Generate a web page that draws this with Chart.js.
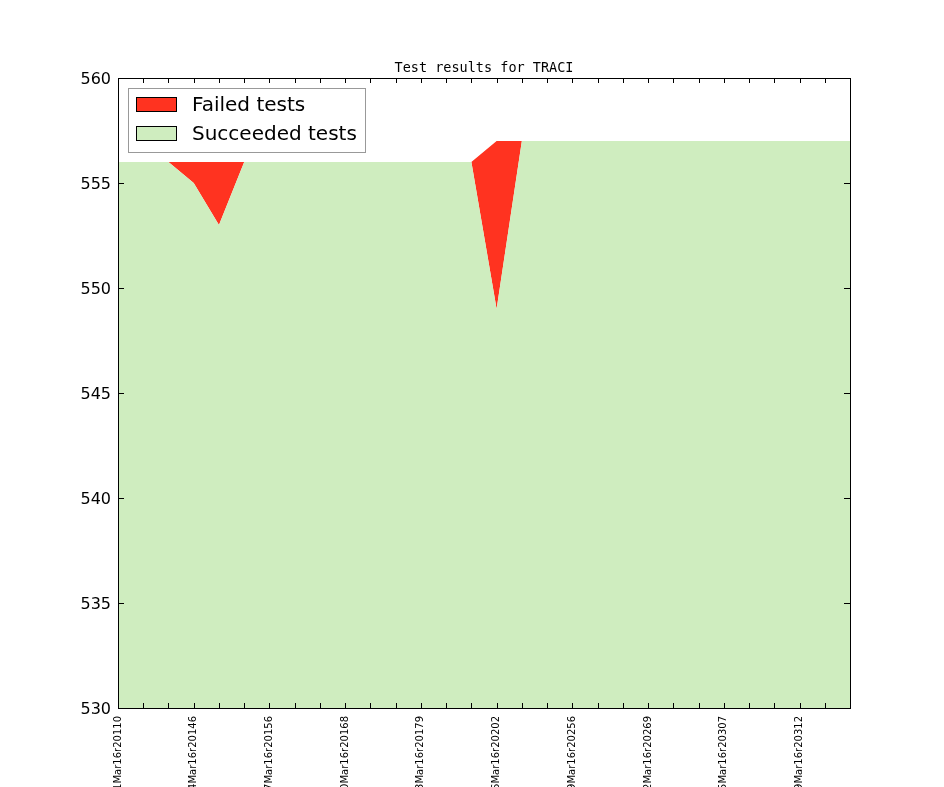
<!DOCTYPE html>
<html>
<head>
<meta charset="utf-8">
<script src="https://cdn.jsdelivr.net/npm/chart.js@4.4.1/dist/chart.umd.min.js"></script>
<style>
  html, body { margin: 0; padding: 0; background: #fff; overflow: hidden; }
</style>
</head>
<body>
<canvas id="chart" width="944" height="787"></canvas>
<script>
// one entry per test run, only every third run is labelled on the axis
const runLabels = [
    '01Mar16r20110', '', '', '04Mar16r20146', '', '', '07Mar16r20156', '', '',
    '10Mar16r20168', '', '', '13Mar16r20179', '', '', '16Mar16r20202', '', '',
    '19Mar16r20256', '', '', '22Mar16r20269', '', '', '25Mar16r20307', '', '',
    '29Mar16r20312', '', ''
];
const succeededTests = [
    556, 556, 556, 555, 553, 556, 556, 556, 556, 556,
    556, 556, 556, 556, 556, 549, 557, 557, 557, 557,
    557, 557, 557, 557, 557, 557, 557, 557, 557, 557
];
const failedTests = [
    0, 0, 0, 1, 3, 0, 0, 0, 0, 0,
    0, 0, 0, 0, 0, 8, 0, 0, 0, 0,
    0, 0, 0, 0, 0, 0, 0, 0, 0, 0
];
const yTicks = [530, 535, 540, 545, 550, 555, 560];
const chartTitle = 'Test results for TRACI';

const RED = '#ff3320';
const GREEN = '#cfedbf';

// frame, inward ticks on all four sides, title and the boxed legend
const mplLook = {
    id: 'mplLook',
    afterDraw(chart) {
        const ctx = chart.ctx;
        const a = chart.chartArea;
        const xs = chart.scales.x;
        const ys = chart.scales.y;
        ctx.save();
        ctx.strokeStyle = '#000';
        ctx.lineWidth = 1;
        ctx.beginPath();
        for (let i = 0; i < runLabels.length; i++) {
            const px = Math.round(xs.getPixelForValue(i)) + 0.5;
            ctx.moveTo(px, a.bottom); ctx.lineTo(px, a.bottom - 5);
            ctx.moveTo(px, a.top); ctx.lineTo(px, a.top + 5);
        }
        for (let v of yTicks) {
            const py = Math.round(ys.getPixelForValue(v)) + 0.5;
            ctx.moveTo(a.left, py); ctx.lineTo(a.left + 6, py);
            ctx.moveTo(a.right, py); ctx.lineTo(a.right - 6, py);
        }
        ctx.stroke();
        ctx.strokeRect(Math.round(a.left) + 0.5, Math.round(a.top) + 0.5,
            Math.round(a.right - a.left), Math.round(a.bottom - a.top));

        // title
        ctx.fillStyle = '#000';
        ctx.font = '13.5px "DejaVu Sans Mono"';
        ctx.textAlign = 'center';
        ctx.textBaseline = 'middle';
        ctx.fillText(chartTitle, (a.left + a.right) / 2, 68);

        // legend
        const lx = a.left + 10, ly = a.top + 10;
        ctx.fillStyle = '#fff';
        ctx.fillRect(lx, ly, 237, 64);
        ctx.strokeStyle = '#999';
        ctx.strokeRect(lx + 0.5, ly + 0.5, 237, 64);
        const items = chart.data.datasets.slice().reverse();
        ctx.font = '20px "DejaVu Sans"';
        ctx.textAlign = 'left';
        items.forEach((ds, k) => {
            const y = ly + 9 + k * 29;
            ctx.fillStyle = ds.backgroundColor;
            ctx.fillRect(lx + 8, y, 40, 14);
            ctx.strokeStyle = '#000';
            ctx.strokeRect(lx + 8.5, y + 0.5, 40, 14);
            ctx.fillStyle = '#000';
            ctx.fillText(ds.label, lx + 64, y + 9);
        });
        ctx.restore();
    }
};

new Chart(document.getElementById('chart'), {
    type: 'line',
    data: {
        labels: runLabels,
        datasets: [
            {
                label: 'Succeeded tests',
                data: succeededTests,
                backgroundColor: GREEN,
                borderColor: 'rgba(0,0,0,0)',
                borderWidth: 0,
                pointRadius: 0,
                tension: 0,
                fill: 'start'
            },
            {
                label: 'Failed tests',
                data: failedTests,
                backgroundColor: RED,
                borderColor: 'rgba(0,0,0,0)',
                borderWidth: 0,
                pointRadius: 0,
                tension: 0,
                fill: '-1'
            }
        ]
    },
    options: {
        responsive: false,
        animation: false,
        layout: { padding: { left: 0, right: 94, top: 78, bottom: 0 } },
        plugins: {
            legend: { display: false },
            title: { display: false },
            tooltip: { enabled: false }
        },
        scales: {
            x: {
                offset: false,
                grid: { display: false, drawTicks: false },
                border: { display: false },
                ticks: {
                    autoSkip: false,
                    maxRotation: 90,
                    minRotation: 90,
                    padding: 8,
                    color: '#000',
                    font: { family: 'DejaVu Sans', size: 10 }
                },
                afterFit(scale) { scale.height = 79; }
            },
            y: {
                stacked: true,
                min: 530,
                max: 560,
                grid: { display: false, drawTicks: false },
                border: { display: false },
                ticks: {
                    stepSize: 5,
                    padding: 7,
                    labelOffset: 2,
                    color: '#000',
                    font: { family: 'DejaVu Sans', size: 16 }
                },
                afterFit(scale) { scale.width = 118; }
            }
        }
    },
    plugins: [mplLook]
});
</script>
</body>
</html>
